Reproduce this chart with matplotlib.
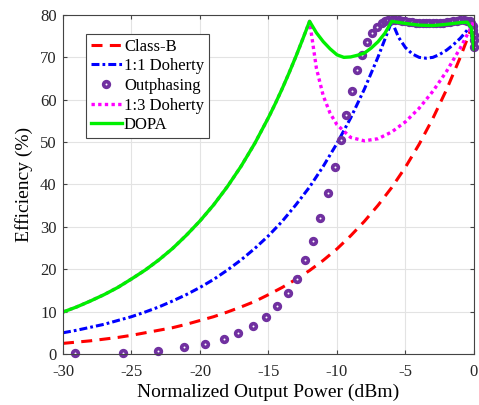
import numpy as np
import matplotlib.pyplot as plt

# Class-B
pwr_b = [-30, -29, -28, -27, -26, -25, -24, -23, -22, -21, -20, -19, -18, -17, -16,
         -15, -14, -13, -12, -11, -10, -9, -8, -7, -6, -5, -4, -3, -2, -1, 0]
eff_b = [2.5, 2.8, 3.1, 3.5, 3.9, 4.4, 5.0, 5.6, 6.2, 7.0, 7.9, 8.8, 9.9, 11.1, 12.4,
         14.0, 15.7, 17.6, 19.7, 22.1, 24.8, 27.9, 31.3, 35.1, 39.3, 44.1, 49.5, 55.6, 62.4, 70.0, 78.5]

# 1:1 Doherty
pwr_d11 = [-30, -29, -28, -27, -26, -25, -24, -23, -22, -21, -20, -19, -18, -17, -16,
           -15, -14, -13, -12, -11, -10, -9, -8, -7, -6,
           -5.5, -5, -4.5, -4, -3.5, -3, -2.5, -2, -1.5, -1, -0.5, 0]
eff_d11 = [5.0, 5.6, 6.3, 7.0, 7.9, 8.8, 9.9, 11.1, 12.5, 14.0, 15.7, 17.6, 19.8, 22.2, 24.9,
           27.9, 31.3, 35.2, 39.4, 44.3, 49.7, 55.7, 62.5, 70.1, 78.5,
           74.7, 72.3, 70.8, 70.0, 69.8, 70.0, 70.7, 71.7, 73.0, 74.5, 76.4, 78.5]

# Outphasing
pwr_out = [-29.1, -25.6, -23.1, -21.2, -19.6, -18.25, -17.2, -16.1, -15.2, -14.36, -13.6,
           -12.9, -12.3, -11.73, -11.24, -10.68, -10.15, -9.73, -9.32, -8.9, -8.54, -8.15,
           -7.83, -7.47, -7.1, -6.74,
           -6.5, -6.25, -6.0, -5.75, -5.5, -5.25, -5.0, -4.75, -4.5, -4.25, -4.0, -3.75,
           -3.5, -3.25, -3.0, -2.75, -2.5, -2.25, -2.0, -1.75, -1.5, -1.25, -1.0, -0.75,
           -0.5, -0.3, -0.2, -0.1, -0.05, 0, 0, 0]
eff_out = [0.2, 0.3, 0.8, 1.6, 2.4, 3.5, 4.9, 6.7, 8.8, 11.3, 14.3,
           17.8, 22.1, 26.7, 32.1, 38.0, 44.2, 50.4, 56.5, 62.1, 66.9, 70.6,
           73.6, 75.7, 77.1, 78.2,
           78.5, 78.7, 78.8, 78.8, 78.7, 78.6, 78.5, 78.4, 78.3, 78.2, 78.1, 78.1,
           78.0, 78.0, 78.0, 78.1, 78.1, 78.2, 78.3, 78.4, 78.5, 78.6, 78.7, 78.7,
           78.6, 78.5, 78.2, 77.5, 76.5, 75.3, 74.0, 72.5]

# 1:3 Doherty
pwr_d13 = [-30, -29, -28, -27, -26, -25, -24, -23, -22, -21, -20, -19, -18, -17, -16,
           -15, -14.5, -14, -13.5, -13, -12.5, -12, -11.5, -11, -10.5, -10,
           -9, -8, -7, -6, -5, -4, -3, -2, -1, -0.5, 0]
eff_d13 = [9.9, 11.1, 12.5, 14.0, 15.7, 17.7, 19.8, 22.2, 24.9, 28.0, 31.4, 35.2, 39.5, 44.3, 49.7,
           55.8, 59.1, 62.6, 66.3, 70.2, 74.3, 78.5, 67.4, 60.9, 56.8, 54.1,
           51.1, 50.3, 50.8, 52.4, 54.8, 58.0, 62.0, 66.7, 72.2, 75.3, 78.5]

# DOPA
pwr_dopa = [-30, -29, -28, -27, -26, -25, -24, -23, -22, -21, -20, -19, -18, -17, -16,
            -15, -14.5, -14, -13.5, -13, -12.5, -12, -11.5, -11, -10.5, -10,
            -9.5, -9, -8.5, -8, -7.5, -7, -6.5, -6, -5, -4, -3, -2, -1, -0.5, -0.2, 0]
eff_dopa = [9.9, 11.1, 12.5, 14.0, 15.7, 17.7, 19.8, 22.2, 24.9, 28.0, 31.4, 35.2, 39.5, 44.3, 49.7,
            55.8, 59.1, 62.6, 66.3, 70.2, 74.3, 78.5, 75.8, 73.7, 72.0, 70.6,
            70.0, 70.1, 70.5, 71.0, 72.2, 73.7, 75.7, 78.5, 78.0, 77.6, 77.5, 77.8, 78.2, 78.3, 77.0, 72.0]

xticks = [-30, -25, -20, -15, -10, -5, 0]
yticks = [0, 10, 20, 30, 40, 50, 60, 70, 80]

plt.rcParams['font.family'] = ['Liberation Serif', 'DejaVu Serif']
plt.rcParams['axes.unicode_minus'] = False

fig = plt.figure(figsize=(4.79, 4.05), dpi=100)
ax = fig.add_axes([0.1315, 0.126, 0.858, 0.837])

ax.plot(pwr_b, eff_b, color='#ff0000', lw=2.2, linestyle=(0, (3.6, 2.4)), label='Class-B')
ax.plot(pwr_d11, eff_d11, color='#0000ff', lw=2.2, linestyle=(0, (2.6, 1.0, 0.9, 1.0)),
        label='1:1 Doherty')
ax.plot(pwr_out, eff_out, linestyle='none', marker='o', ms=4.1, mew=2.6, mfc='white',
        mec='#7030a0', clip_on=False, label='Outphasing')
ax.plot(pwr_d13, eff_d13, color='#ff00ff', lw=2.4, linestyle=(0, (1, 1)),
        dash_capstyle='butt', label='1:3 Doherty')
ax.plot(pwr_dopa, eff_dopa, color='#00f000', lw=2.4, label='DOPA')

ax.set_xlim(-30, 0)
ax.set_ylim(0, 80)
ax.set_xticks(xticks)
ax.set_yticks(yticks)
ax.grid(True, color='#e3e3e3', lw=0.8)
ax.set_axisbelow(True)
ax.tick_params(direction='in', length=3, top=True, right=True, labelsize=12,
               labelcolor='#262626', color='#444444')
ax.tick_params(axis='x', pad=7)
ax.tick_params(axis='y', pad=4.5)
for s in ax.spines.values():
    s.set_color('#444444')
    s.set_linewidth(0.8)

ax.set_xlabel('Normalized Output Power (dBm)', fontsize=14, labelpad=3)
ax.set_ylabel('Efficiency (%)', fontsize=14, labelpad=5)

leg = ax.legend(loc='upper left', bbox_to_anchor=(0.055, 0.945), fontsize=12,
                handlelength=1.9, handletextpad=0.1, labelspacing=0.22, borderpad=0.3,
                fancybox=False, framealpha=1, edgecolor='#444444', borderaxespad=0)
leg.get_frame().set_linewidth(0.8)

fig.savefig('out.png', dpi=100)
